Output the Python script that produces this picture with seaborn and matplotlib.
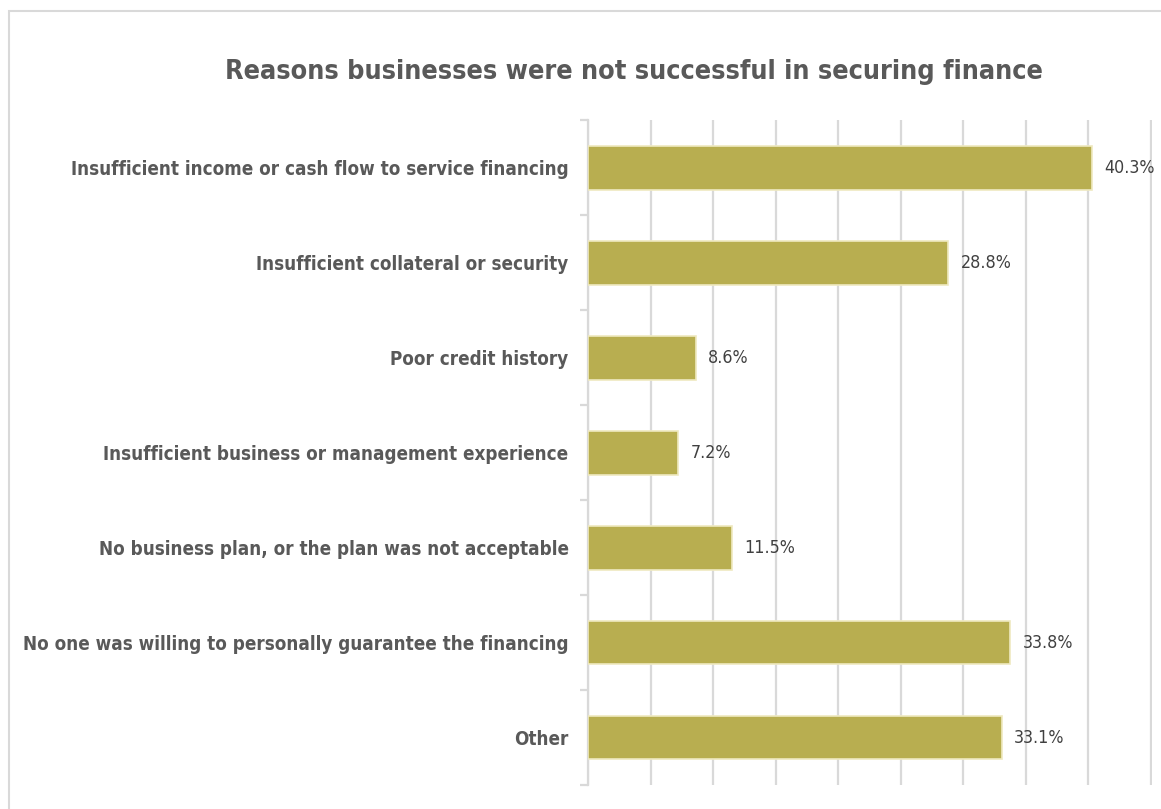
import matplotlib
matplotlib.use("Agg")
import matplotlib.pyplot as plt
from matplotlib import font_manager as fm
from matplotlib.patches import Rectangle
import seaborn as sns
import pandas as pd

# Survey results
reasons = [
    "Insufficient income or cash flow to service financing",
    "Insufficient collateral or security",
    "Poor credit history",
    "Insufficient business or management experience",
    "No business plan, or the plan was not acceptable",
    "No one was willing to personally guarantee the financing",
    "Other",
]
shares = [40.3, 28.8, 8.6, 7.2, 11.5, 33.8, 33.1]
share_labels = ["40.3%", "28.8%", "8.6%", "7.2%", "11.5%", "33.8%", "33.1%"]
title_text = "Reasons businesses were not successful in securing finance"

BAR_COLOR = "#b8ae50"
BAR_EDGE = "#efe9c0"
TEXT_DARK = "#595959"
TEXT_VALUE = "#404040"
GRID = "#d9d9d9"

sns.set_theme(style="white")

# Pick a narrow face when one is installed
installed = {f.name for f in fm.fontManager.ttflist}
if "Liberation Sans Narrow" in installed:
    narrow_family = "Liberation Sans Narrow"
    narrow_stretch = "normal"
else:
    narrow_family = "DejaVu Sans"
    narrow_stretch = "condensed"
plt.rcParams["font.family"] = [narrow_family, "DejaVu Sans"]

df = pd.DataFrame({"reason": reasons, "share": shares})

W, H, DPI = 11.61, 8.09, 100
fig = plt.figure(figsize=(W, H), dpi=DPI)
fig.patch.set_facecolor("white")

# Plot area in figure pixels (12.5 px per percentage point)
x_max = 45.1
left_px, top_px, bottom_px = 588, 120.5, 785
right_px = left_px + 12.5 * x_max
ax = fig.add_axes([left_px / 1161, 1 - bottom_px / 809,
                   (right_px - left_px) / 1161, (bottom_px - top_px) / 809])

sns.barplot(data=df, x="share", y="reason", orient="h", ax=ax,
            color=BAR_COLOR, saturation=1, width=0.46,
            edgecolor=BAR_EDGE, linewidth=1.2, zorder=3)

ax.set_xlim(0, x_max)
ax.set_ylim(len(reasons) - 0.5, -0.5)
ax.set_xticks(range(0, 46, 5))
ax.set_xticklabels([])
ax.tick_params(axis="x", length=0)
ax.grid(axis="x", color=GRID, linewidth=1.6, zorder=0)
ax.grid(axis="y", visible=False)
ax.set_axisbelow(True)
ax.set_xlabel("")
ax.set_ylabel("")

for side in ("top", "right", "bottom"):
    ax.spines[side].set_visible(False)
ax.spines["left"].set_color(GRID)
ax.spines["left"].set_linewidth(1.6)

# Category separators on the left axis
ax.set_yticks([i - 0.5 for i in range(len(reasons) + 1)], minor=True)
ax.tick_params(axis="y", which="minor", length=6, width=1.6, color=GRID, left=True)
ax.tick_params(axis="y", which="major", length=0, pad=14)

label_font = fm.FontProperties(family=narrow_family, stretch=narrow_stretch, weight="bold")
value_font = fm.FontProperties(family=narrow_family, stretch=narrow_stretch, weight="normal")
title_font = fm.FontProperties(family=narrow_family, stretch=narrow_stretch, weight="bold")

for lbl in ax.get_yticklabels():
    lbl.set_fontproperties(label_font)
    lbl.set_color(TEXT_DARK)

value_texts = []
for i, (v, s) in enumerate(zip(shares, share_labels)):
    t = ax.annotate(s, xy=(v, i), xytext=(9, 0), textcoords="offset points",
                    ha="left", va="center", color=TEXT_VALUE,
                    fontproperties=value_font, zorder=4)
    value_texts.append(t)

title = fig.text(633.5 / 1161, 1 - 72 / 809, title_text, ha="center", va="center",
                 color=TEXT_DARK, fontproperties=title_font)

# Size the text runs to fit their slots
renderer = fig.canvas.get_renderer()


def fit(texts, target_px, start=16.0):
    for t in texts:
        t.set_fontsize(start)
    widest = max(t.get_window_extent(renderer).width for t in texts)
    size = start * target_px / widest
    for t in texts:
        t.set_fontsize(size)
    return size


ylabels = ax.get_yticklabels()
fit(ylabels, 546)
fit(value_texts, 51)
fit([title], 819, start=24)

# Thin frame around the chart card
fig.add_artist(Rectangle((9 / 1161, -0.01), 1.02, 1 - 11 / 809 + 0.01,
                         transform=fig.transFigure, fill=False,
                         edgecolor="#d9d9d9", linewidth=1.5))

fig.savefig("out.png", dpi=DPI, facecolor="white")
